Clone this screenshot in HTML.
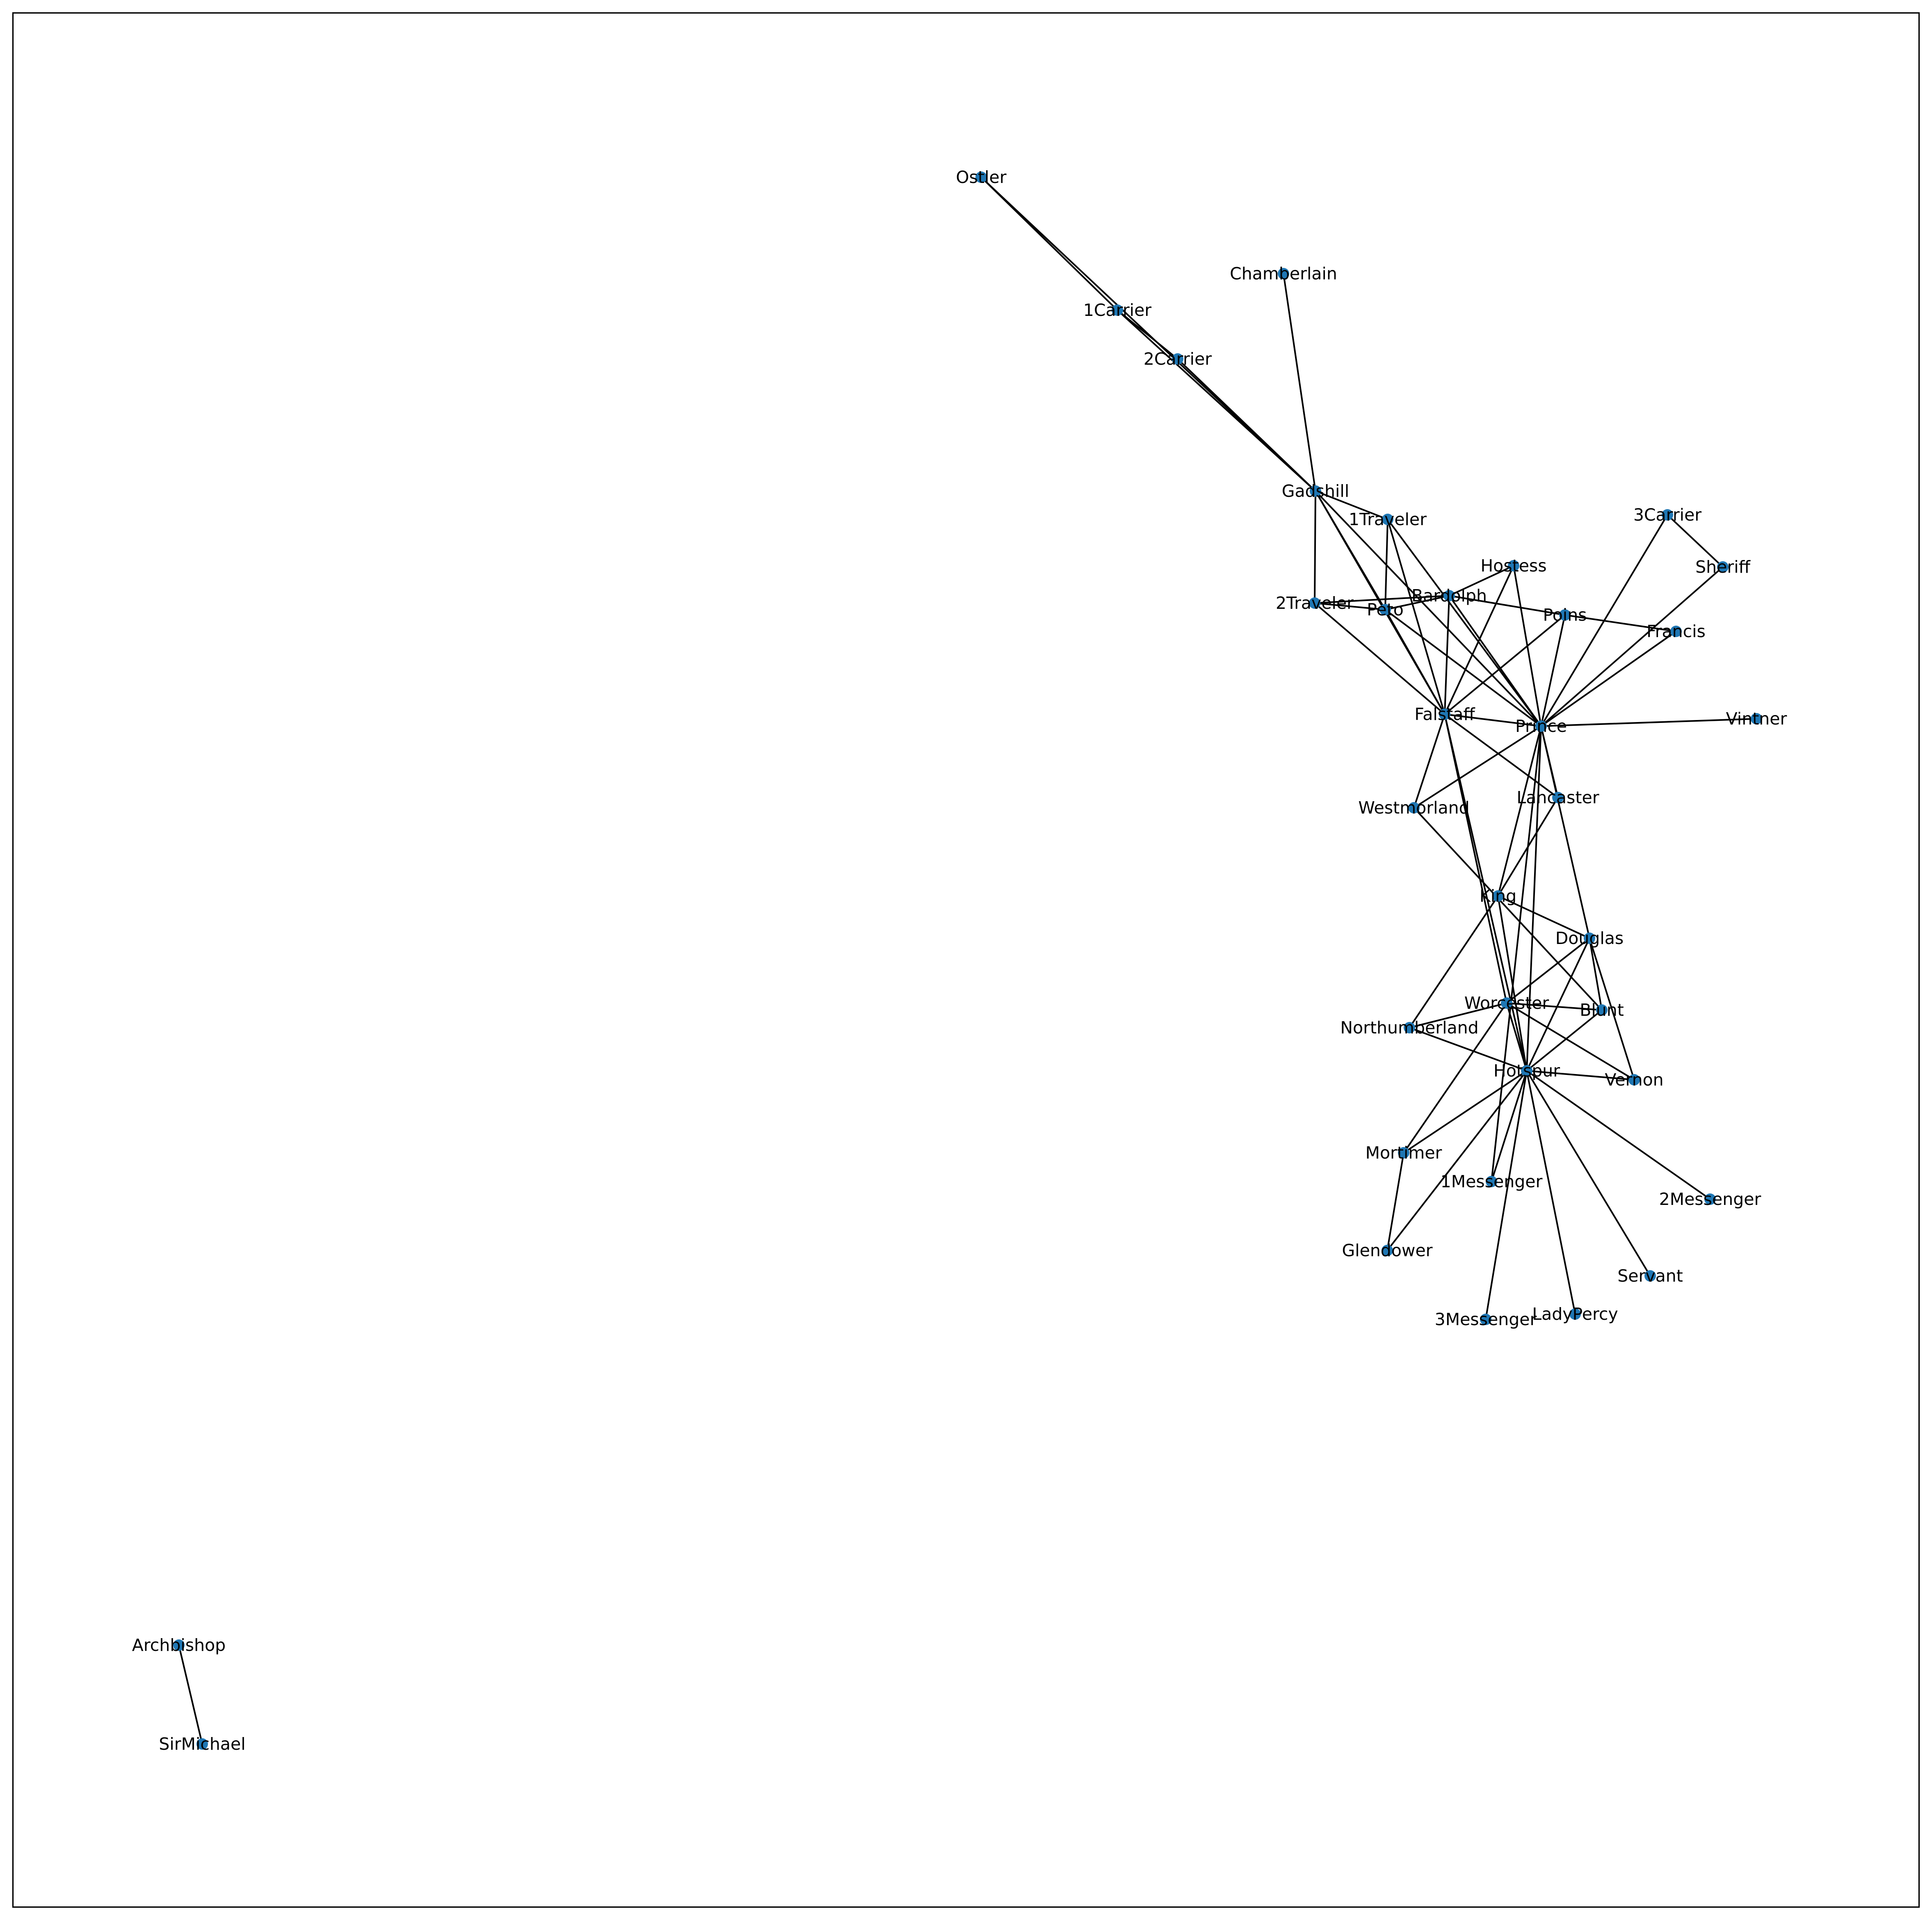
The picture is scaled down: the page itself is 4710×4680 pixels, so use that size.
<!DOCTYPE html>
<html><head><meta charset="utf-8"><style>
html,body{margin:0;padding:0;background:#fff;}
svg{display:block;}
text{font-family:"DejaVu Sans","Liberation Sans",sans-serif;font-size:41px;fill:#000;}
</style></head><body>
<svg id="chart" width="4710" height="4680" viewBox="0 0 4710 4680" xmlns="http://www.w3.org/2000/svg">
<rect x="31.5" y="31.5" width="4647" height="4617" fill="#fff" stroke="#000" stroke-width="3.3"/>
<g id="edges"></g>
<g id="nodes"></g>
<g id="labels"></g>
</svg>
<script>
const nodeNames = ["Ostler","Chamberlain","1Carrier","2Carrier","Gadshill","1Traveler","3Carrier","Hostess","Sheriff","Bardolph","2Traveler","Peto","Poins","Francis","Falstaff","Prince","Vintner","Lancaster","Westmorland","King","Douglas","Worcester","Blunt","Northumberland","Hotspur","Vernon","Mortimer","1Messenger","2Messenger","Glendower","Servant","LadyPercy","3Messenger","Archbishop","SirMichael"];
const nodeX = [2392,3129,2724,2871,3207,3383,4065,3690,4200,3533,3205,3377,3815,4086,3522,3757,4282,3798,3447,3652,3875,3673,3905,3436,3722,3984,3422,3636,4169,3382,4023,3840,3622,436,493];
const nodeY = [432,667,756,875,1197,1266,1255,1379,1382,1452,1470,1486,1499,1539,1741,1770,1752,1944,1969,2184,2287,2445,2462,2505,2610,2632,2810,2880,2923,3048,3110,3203,3216,4010,4251];
const edgeFrom = ["Ostler","Ostler","1Carrier","1Carrier","2Carrier","Chamberlain","Gadshill","Gadshill","Gadshill","Gadshill","Gadshill","1Traveler","1Traveler","1Traveler","2Traveler","2Traveler","2Traveler","Peto","Peto","Peto","Bardolph","Bardolph","Bardolph","Bardolph","Hostess","Hostess","Poins","Poins","Poins","3Carrier","3Carrier","Sheriff","Francis","Falstaff","Prince","Falstaff","Falstaff","Falstaff","Falstaff","Prince","Prince","Prince","Prince","Prince","Prince","Lancaster","Westmorland","King","King","King","Douglas","Douglas","Douglas","Douglas","Worcester","Worcester","Worcester","Worcester","Worcester","Hotspur","Hotspur","Hotspur","Hotspur","Hotspur","Hotspur","Hotspur","Hotspur","Hotspur","Hotspur","Mortimer","Archbishop"];
const edgeTo = ["1Carrier","Gadshill","2Carrier","Gadshill","Gadshill","Gadshill","1Traveler","2Traveler","Falstaff","Peto","Prince","Peto","Falstaff","Prince","Bardolph","Peto","Falstaff","Bardolph","Falstaff","Prince","Hostess","Poins","Falstaff","Prince","Falstaff","Prince","Francis","Falstaff","Prince","Sheriff","Prince","Prince","Prince","Prince","Vintner","Westmorland","Lancaster","Hotspur","Worcester","Westmorland","King","Lancaster","Hotspur","1Messenger","Douglas","King","Blunt","Douglas","Northumberland","Hotspur","Worcester","Hotspur","Blunt","Vernon","Blunt","Northumberland","Mortimer","Vernon","Hotspur","Northumberland","Blunt","Vernon","Mortimer","Glendower","1Messenger","2Messenger","3Messenger","Servant","LadyPercy","Glendower","SirMichael"];

const NS = "http://www.w3.org/2000/svg";
function px(i){ return nodeX[i]; }
function py(i){ return nodeY[i]; }
const eg = document.getElementById("edges");
for (let k = 0; k < edgeFrom.length; k++) {
  const a = nodeNames.indexOf(edgeFrom[k]), b = nodeNames.indexOf(edgeTo[k]);
  const l = document.createElementNS(NS, "line");
  l.setAttribute("x1", px(a)); l.setAttribute("y1", py(a));
  l.setAttribute("x2", px(b)); l.setAttribute("y2", py(b));
  l.setAttribute("stroke", "#000"); l.setAttribute("stroke-width", "4");
  
  
  eg.appendChild(l);
}
const ng = document.getElementById("nodes");
const lg = document.getElementById("labels");
for (let i = 0; i < nodeNames.length; i++) {
  const c = document.createElementNS(NS, "circle");
  c.setAttribute("cx", px(i)); c.setAttribute("cy", py(i)); c.setAttribute("r", "14");
  c.setAttribute("fill", "#1f77b4");
  
  
  ng.appendChild(c);
  const t = document.createElementNS(NS, "text");
  t.setAttribute("x", px(i)); t.setAttribute("y", py(i));
  t.setAttribute("text-anchor", "middle"); t.setAttribute("dominant-baseline", "central");
  t.textContent = nodeNames[i];
  
  
  lg.appendChild(t);
}
</script>
</body></html>
